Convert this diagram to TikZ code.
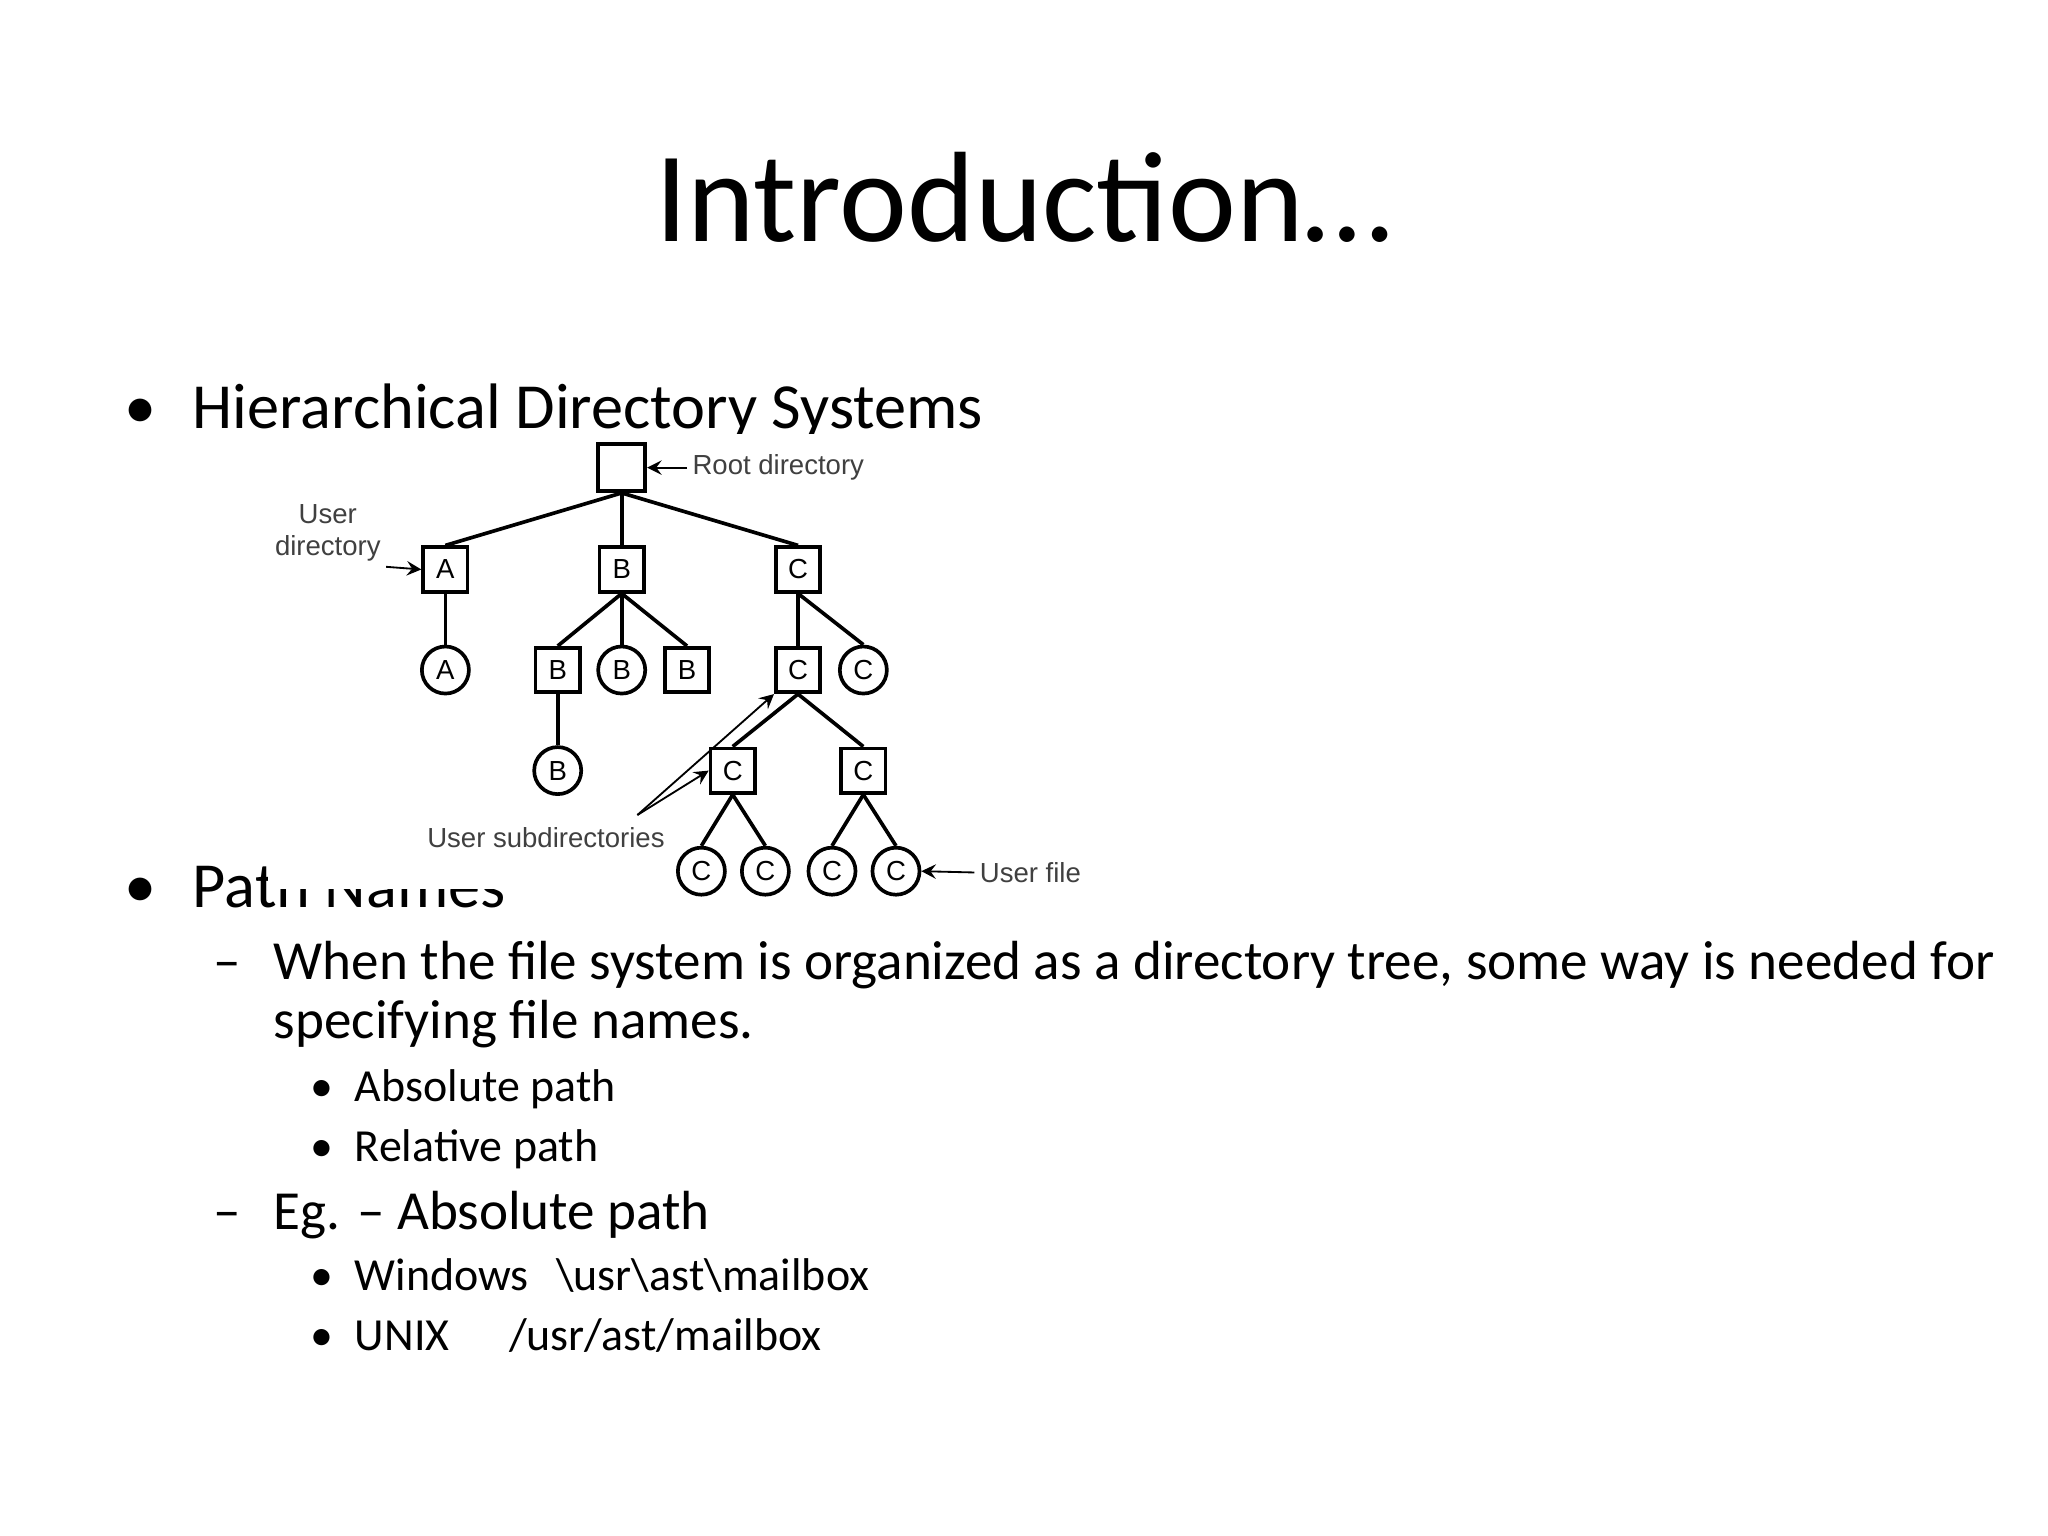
\documentclass[tikz,border=0pt]{standalone}
\usepackage{fontspec}
\setmainfont{Carlito}
\newfontfamily\treefont{Liberation Sans}
\usetikzlibrary{arrows,positioning}

\begin{document}
\begin{tikzpicture}[
    x=0.01cm, y=-0.01cm,
    body/.style={anchor=base west, inner sep=0pt, font=\fontsize{14}{16}\selectfont},
    sub/.style={anchor=base west, inner sep=0pt, font=\fontsize{12}{14}\selectfont},
    subsub/.style={anchor=base west, inner sep=0pt, font=\fontsize{10}{12}\selectfont},
    dir/.style={draw, thick, minimum size=0.34cm, inner sep=0pt, font=\treefont\fontsize{6}{7}\selectfont},
    file/.style={draw, thick, circle, minimum size=0.36cm, inner sep=0pt, font=\treefont\fontsize{6}{7}\selectfont},
    lbl/.style={inner sep=1pt, align=center, font=\treefont\fontsize{6}{7}\selectfont, text=black!75},
    arrow/.style={->, >=stealth, thin},
    link/.style={thick}
]
\useasboundingbox (0,0) rectangle (1568,1176);

% Title
\node[inner sep=0pt, anchor=base, font=\fontsize{28}{32}\selectfont] (title) at (784,185) {Introduction…};

% Bullets
\node[body] (b1) at (95,328) {\textbullet};
\node[body] (hds) at (147,328) {Hierarchical Directory Systems};
\node[body] (b2) at (95,695) {\textbullet};
\node[body] (pn) at (147,695) {Path Names};
\node[sub] (d1) at (163,750) {–};
\node[sub] (when) at (209,750) {When the file system is organized as a directory tree, some way is needed for};
\node[sub] (spec) at (209,795) {specifying file names.};
\node[subsub] (b3) at (237,843) {\textbullet};
\node[subsub] (abs) at (271,843) {Absolute path};
\node[subsub] (b4) at (237,889) {\textbullet};
\node[subsub] (rel) at (271,889) {Relative path};
\node[sub] (d2) at (163,941) {–};
\node[sub] (eg) at (209,941) {Eg. – Absolute path};
\node[subsub] (b5) at (237,988) {\textbullet};
\node[subsub] (win) at (271,988) {Windows};
\node[subsub] (winp) at (425,988) {\textbackslash usr\textbackslash ast\textbackslash mailbox};
\node[subsub] (b6) at (237,1034) {\textbullet};
\node[subsub] (unix) at (271,1034) {UNIX};
\node[subsub] (unixp) at (389,1034) {/usr/ast/mailbox};

% White backing of the tree picture
\fill[white] (205,332) rectangle (835,681);

% Tree
\node[dir, minimum size=0.36cm] (root) at (476,358) {};
\node[dir] (ua) at (341,436) {A};
\node[dir] (ub) at (476,436) {B};
\node[dir] (uc) at (611,436) {C};
\node[file] (fa) at (341,513) {A};
\node[dir] (db1) at (427,513) {B};
\node[file] (fb1) at (476,513) {B};
\node[dir] (db2) at (526,513) {B};
\node[dir] (dc1) at (611,513) {C};
\node[file] (fc1) at (661,513) {C};
\node[file] (fb2) at (427,590) {B};
\node[dir] (dc2) at (561,590) {C};
\node[dir] (dc3) at (661,590) {C};
\node[file] (fc2) at (537,667) {C};
\node[file] (fc3) at (586,667) {C};
\node[file] (fc4) at (637,667) {C};
\node[file] (fc5) at (686,667) {C};

\draw[link] (root.south) -- (ua.north);
\draw[link] (root.south) -- (ub.north);
\draw[link] (root.south) -- (uc.north);
\draw[link] (ua) -- (fa);
\draw[link] (ub.south) -- (db1.north);
\draw[link] (ub) -- (fb1);
\draw[link] (ub.south) -- (db2.north);
\draw[link] (uc) -- (dc1);
\draw[link] (uc.south) -- (fc1.north);
\draw[link] (db1) -- (fb2);
\draw[link] (dc1.south) -- (dc2.north);
\draw[link] (dc1.south) -- (dc3.north);
\draw[link] (dc2.south) -- (fc2.north);
\draw[link] (dc2.south) -- (fc3.north);
\draw[link] (dc3.south) -- (fc4.north);
\draw[link] (dc3.south) -- (fc5.north);

% Labels
\node[lbl, anchor=west] (rootlbl) at (526,358) {Root directory};
\node[lbl] (userlbl) at (251,408) {User\\directory};
\node[lbl] (sublbl) at (418,641) {User subdirectories};
\node[lbl, anchor=west] (filelbl) at (746,668) {User file};
\coordinate (subtip) at (488,624);

\draw[arrow] (rootlbl.west) -- (root.east);
\draw[arrow] (userlbl.south east) -- (ua.west);
\draw[arrow] (subtip) -- (dc1.south west);
\draw[arrow] (subtip) -- (dc2.west);
\draw[arrow] (filelbl.west) -- (fc5.east);

\end{tikzpicture}
\end{document}
